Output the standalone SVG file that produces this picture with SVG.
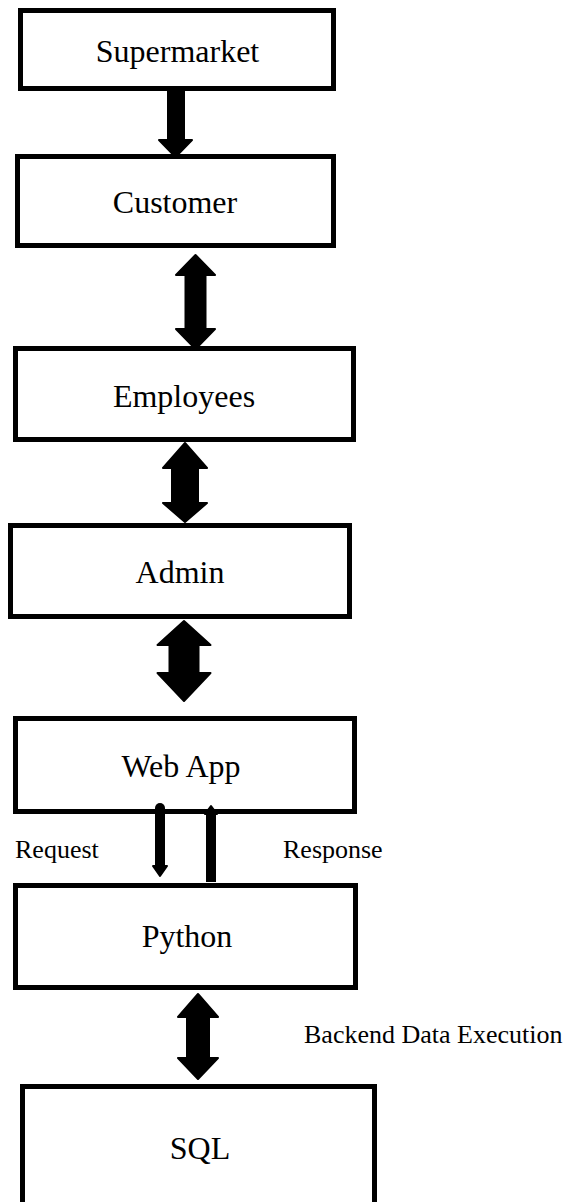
<svg xmlns="http://www.w3.org/2000/svg" width="568" height="1202" viewBox="0 0 568 1202">
<style>
.box{fill:#fff;stroke:#000;stroke-width:5}
.lbl{font-family:"Liberation Serif","Times New Roman",serif;font-size:32px;fill:#000;text-anchor:middle}
.side{font-family:"Liberation Serif","Times New Roman",serif;font-size:26px;fill:#000}
.arr{fill:#000;stroke:#000;stroke-width:2;stroke-linejoin:round}
.thin{stroke:#000;stroke-width:10;stroke-linecap:round;fill:none}
</style>
<rect width="568" height="1202" fill="#fff"/>
<g id="node-supermarket"><rect class="box" x="20.5" y="10.5" width="313" height="78"/><text class="lbl" x="177.5" y="62">Supermarket</text></g>
<g id="node-customer"><rect class="box" x="17.5" y="156.5" width="316" height="89"/><text class="lbl" x="175" y="213">Customer</text></g>
<g id="node-employees"><rect class="box" x="15.5" y="348.5" width="338" height="91"/><text class="lbl" x="184" y="407">Employees</text></g>
<g id="node-admin"><rect class="box" x="10.5" y="525.5" width="339" height="91"/><text class="lbl" x="180" y="583">Admin</text></g>
<g id="node-webapp"><rect class="box" x="15.5" y="718.5" width="339" height="93"/><text class="lbl" x="181" y="777">Web App</text></g>
<g id="node-python"><rect class="box" x="15.5" y="885.5" width="340" height="102"/><text class="lbl" x="187" y="947">Python</text></g>
<g id="node-sql"><rect class="box" x="22.5" y="1086.5" width="352" height="200"/><text class="lbl" x="200" y="1159">SQL</text></g>
<g id="connectors">
<polygon class="arr" points="168,88 184,88 184,140 192,140 175.5,157 159,140 168,140"/>
<polygon class="arr" points="195.5,255 215,275 205.5,275 205.5,329 215,329 195.5,349 176,329 185.5,329 185.5,275 176,275"/>
<polygon class="arr" points="185,443 207,468 198,468 198,503 207,503 185,522 163,503 172,503 172,468 163,468"/>
<polygon class="arr" points="184,621 210.5,645 198.5,645 198.5,673 210.5,673 184,701 157.5,673 169.5,673 169.5,645 157.5,645"/>
<polygon class="arr" points="198,994 218,1017 209,1017 209,1058 218,1058 198,1079 178,1058 187,1058 187,1017 178,1017"/>
<line class="thin" x1="160" y1="808" x2="160" y2="868"/>
<polygon class="arr" points="153,866 167,866 160,876"/>
<line class="thin" x1="211" y1="813" x2="211" y2="882" style="stroke-linecap:butt"/>
<polygon class="arr" points="205,814 217,814 211,806"/>
</g>
<text class="side" x="15" y="858">Request</text>
<text class="side" x="283" y="858">Response</text>
<text class="side" x="304" y="1043">Backend Data Execution</text>
</svg>
